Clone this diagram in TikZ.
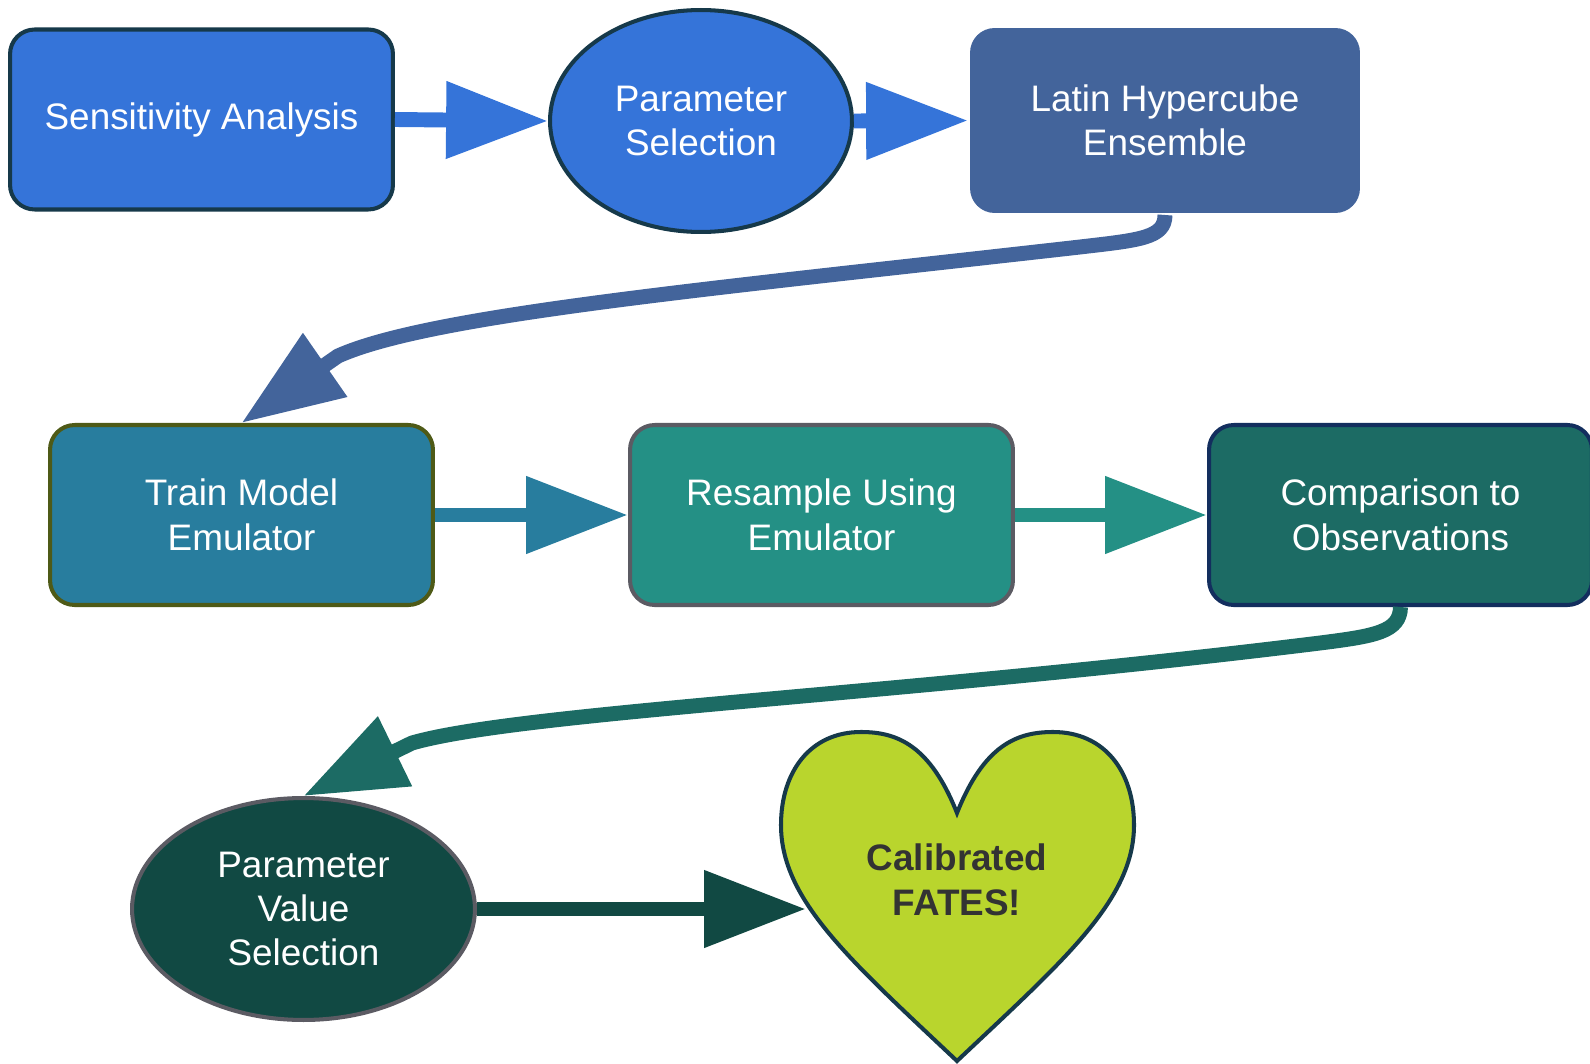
\documentclass[tikz,border=0pt]{standalone}
\usepackage{fontspec}
\setmainfont{Liberation Sans}
\usetikzlibrary{shapes.geometric,arrows.meta}
\definecolor{saBlue}{HTML}{3574D9}
\definecolor{lheBlue}{HTML}{43649B}
\definecolor{tmeTeal}{HTML}{287D9E}
\definecolor{rueTeal}{HTML}{249085}
\definecolor{coGreen}{HTML}{1C6B64}
\definecolor{pvsGreen}{HTML}{114943}
\definecolor{heartLime}{HTML}{B9D52D}
\definecolor{darkEdge}{HTML}{16394A}
\definecolor{oliveEdge}{HTML}{4E5A17}
\definecolor{greyEdge}{HTML}{5B5B63}
\definecolor{navyEdge}{HTML}{132E5E}
\definecolor{heartText}{HTML}{333333}

\begin{document}
\begin{tikzpicture}[x=0.02cm,y=-0.02cm,
    box/.style={rectangle,rounded corners=14pt,line width=2.3pt,minimum width=7.66cm,minimum height=3.6cm,inner sep=0pt,align=center,text=white,font=\fontsize{21}{25.3}\selectfont},
    oval/.style={ellipse,line width=2.3pt,inner sep=0pt,align=center,text=white,font=\fontsize{21}{25.3}\selectfont},
    link/.style={line width=8.5pt,line join=round,-{Triangle[length=58pt,width=42pt]}}]
    \useasboundingbox (0,0) rectangle (1590,1064);

    \node[box,fill=saBlue,draw=darkEdge] (sa) at (201.5,119.5) {Sensitivity Analysis};
    \node[oval,fill=saBlue,draw=darkEdge,minimum width=6.04cm,minimum height=4.44cm] (ps) at (701,121) {Parameter\\Selection};
    \node[box,fill=lheBlue,minimum width=7.8cm,minimum height=3.7cm] (lhe) at (1165,120.5) {Latin Hypercube\\Ensemble};

    \node[box,fill=tmeTeal,draw=oliveEdge] (tme) at (241.5,515) {Train Model\\Emulator};
    \node[box,fill=rueTeal,draw=greyEdge] (rue) at (821.5,515) {Resample Using\\Emulator};
    \node[box,fill=coGreen,draw=navyEdge] (co) at (1400.5,515) {Comparison to\\Observations};

    \node[oval,fill=pvsGreen,draw=greyEdge,minimum width=6.86cm,minimum height=4.44cm] (pvs) at (303.5,909) {Parameter\\Value\\Selection};

    \filldraw[fill=heartLime,draw=darkEdge,line width=2.3pt] (957,813)
        .. controls (930,745) and (897,732) .. (861,732)
        .. controls (810,732) and (781,772) .. (781,825)
        .. controls (781,900) and (850,960) .. (957,1061)
        .. controls (1064,960) and (1134,900) .. (1134,825)
        .. controls (1134,772) and (1105,732) .. (1053,732)
        .. controls (1017,732) and (984,745) .. (957,813) -- cycle;
    \node[align=center,text=heartText,font=\fontsize{21}{25.3}\selectfont\bfseries] (fates) at (957,880) {Calibrated\\FATES!};
    \coordinate (heartl) at (806,909);

    \draw[link,saBlue] (sa.east) -- (ps.west);
    \draw[link,saBlue] (ps.east) -- (lhe.west);
    \draw[link,lheBlue] (lhe.south) .. controls (1165,238) and (1140,240) .. (1080,247)
        .. controls (700,290) and (430,315) .. (338,356) -- (tme.north);
    \draw[link,tmeTeal] (tme.east) -- (rue.west);
    \draw[link,rueTeal] (rue.east) -- (co.west);
    \draw[link,coGreen] (co.south) .. controls (1400,632) and (1375,636) .. (1320,643)
        .. controls (900,695) and (520,712) .. (412,743) -- (pvs.north);
    \draw[link,pvsGreen] (pvs.east) -- (heartl);
\end{tikzpicture}
\end{document}
